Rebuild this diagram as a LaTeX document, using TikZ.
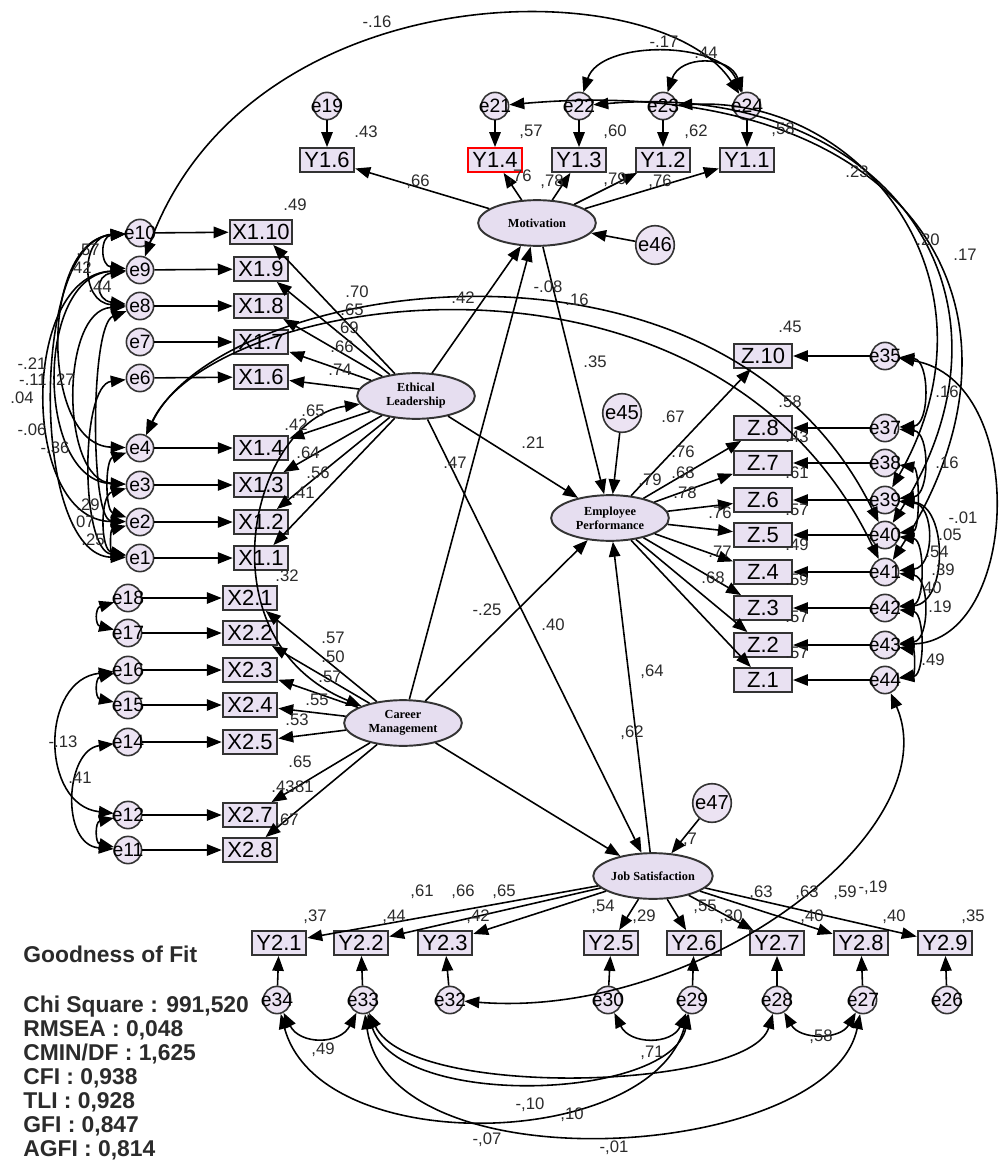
\documentclass[tikz,border=0pt]{standalone}
\usepackage{fontspec}
\setmainfont{Liberation Sans}
\newfontfamily\latfont{Liberation Serif}
\usetikzlibrary{shapes,arrows.meta,positioning}
\definecolor{boxfill}{HTML}{E9E1F2}
\definecolor{latfill}{HTML}{E6DEF0}
\definecolor{errfill}{HTML}{ECE3F3}
\definecolor{inkgray}{HTML}{2B2B2B}

\begin{document}
\begin{tikzpicture}[x=0.02cm, y=-0.02cm]
    % Define styles
    \tikzstyle{obs} = [draw=black!80, line width=1.2pt, rectangle, fill=boxfill, minimum width=31pt, minimum height=13.5pt, inner sep=1.5pt, font=\fontsize{12.5}{12.5}\selectfont]
    \tikzstyle{zobs} = [obs, minimum width=33pt]
    \tikzstyle{latent} = [draw=black!80, line width=1.1pt, ellipse, fill=latfill, minimum width=67pt, minimum height=26pt, inner sep=0pt, align=center, font=\latfont\bfseries\fontsize{7}{8}\selectfont]
    \tikzstyle{err} = [draw=black!80, line width=0.9pt, circle, fill=errfill, inner sep=0pt, minimum size=15.5pt, font=\fontsize{11}{11}\selectfont,
        execute at begin node={\hbox to 0pt\bgroup\hss}, execute at end node={\hss\egroup}]
    \tikzstyle{dist} = [draw=black!80, line width=0.9pt, circle, fill=errfill, inner sep=0pt, minimum size=22pt, font=\fontsize{11.5}{11.5}\selectfont]
    \tikzstyle{coef} = [inner sep=0pt, text=inkgray, font=\fontsize{9.5}{10}\selectfont]
    \tikzstyle{gof} = [inner sep=0pt, text=inkgray, font=\bfseries\fontsize{13}{13.6}\selectfont]
    \tikzstyle{arrow} = [line width=0.9pt, -{Triangle[length=8.5pt,width=6.5pt]}]
    \tikzstyle{cov} = [line width=0.9pt, {Triangle[length=8.5pt,width=6.5pt]}-{Triangle[length=8.5pt,width=6.5pt]}]

    \fill[white] (0,0) rectangle (1005,1162);
    \useasboundingbox (0,0) rectangle (1005,1162);

    % Latent variables
    \node[latent] (mot) at (537,223) {Motivation};
    \node[latent] (eth) at (416,396) {Ethical\\Leadership};
    \node[latent] (car) at (403,723) {Career\\Management};
    \node[latent] (emp) at (610,518) {Employee\\Performance};
    \node[latent, minimum width=68pt] (job) at (653,876) {Job Satisfaction};
    \node[dist] (e46) at (655,245) {e46};
    \node[dist] (e45) at (622,413) {e45};
    \node[dist] (e47) at (712,803) {e47};

    % Motivation indicators
    \node[obs] (y16) at (327,160) {Y1.6};
    \node[obs, draw=red] (y14) at (495,160) {Y1.4};
    \node[obs] (y13) at (579,160) {Y1.3};
    \node[obs] (y12) at (663,160) {Y1.2};
    \node[obs] (y11) at (747,160) {Y1.1};
    \node[err] (e19) at (327,106) {e19};
    \node[err] (e21) at (495,106) {e21};
    \node[err] (e22) at (579,106) {e22};
    \node[err] (e23) at (663,106) {e23};
    \node[err] (e24) at (747,106) {e24};

    % Ethical Leadership indicators
    \node[obs] (x110) at (261,232) {X1.10};
    \node[obs] (x19) at (261,269) {X1.9};
    \node[obs] (x18) at (261,306) {X1.8};
    \node[obs] (x17) at (261,342) {X1.7};
    \node[obs] (x16) at (261,377) {X1.6};
    \node[obs] (x14) at (261,448) {X1.4};
    \node[obs] (x13) at (261,485) {X1.3};
    \node[obs] (x12) at (261,522) {X1.2};
    \node[obs] (x11) at (261,558) {X1.1};
    \node[err] (e10) at (140,233) {e10};
    \node[err] (e9) at (140,270) {e9};
    \node[err] (e8) at (140,306) {e8};
    \node[err] (e7) at (140,342) {e7};
    \node[err] (e6) at (140,378) {e6};
    \node[err] (e4) at (140,448) {e4};
    \node[err] (e3) at (140,485) {e3};
    \node[err] (e2) at (140,522) {e2};
    \node[err] (e1) at (140,558) {e1};

    % Career Management indicators
    \node[obs] (x21) at (250,598) {X2.1};
    \node[obs] (x22) at (250,633) {X2.2};
    \node[obs] (x23) at (250,670) {X2.3};
    \node[obs] (x24) at (250,705) {X2.4};
    \node[obs] (x25) at (250,742) {X2.5};
    \node[obs] (x27) at (250,815) {X2.7};
    \node[obs] (x28) at (250,850) {X2.8};
    \node[err] (e18) at (128,598) {e18};
    \node[err] (e17) at (128,633) {e17};
    \node[err] (e16) at (128,670) {e16};
    \node[err] (e15) at (128,705) {e15};
    \node[err] (e14) at (128,742) {e14};
    \node[err] (e12) at (128,815) {e12};
    \node[err] (e11) at (128,850) {e11};

    % Employee Performance indicators
    \node[zobs] (z10) at (763,356) {Z.10};
    \node[zobs] (z8) at (763,428) {Z.8};
    \node[zobs] (z7) at (763,463) {Z.7};
    \node[zobs] (z6) at (763,500) {Z.6};
    \node[zobs] (z5) at (763,535) {Z.5};
    \node[zobs] (z4) at (763,572) {Z.4};
    \node[zobs] (z3) at (763,608) {Z.3};
    \node[zobs] (z2) at (763,645) {Z.2};
    \node[zobs] (z1) at (763,680) {Z.1};
    \node[err] (e35) at (885,356) {e35};
    \node[err] (e37) at (885,428) {e37};
    \node[err] (e38) at (885,463) {e38};
    \node[err] (e39) at (885,500) {e39};
    \node[err] (e40) at (885,535) {e40};
    \node[err] (e41) at (885,572) {e41};
    \node[err] (e42) at (885,608) {e42};
    \node[err] (e43) at (885,645) {e43};
    \node[err] (e44) at (885,680) {e44};

    % Job Satisfaction indicators
    \node[obs] (y21) at (279,943) {Y2.1};
    \node[obs] (y22) at (361,943) {Y2.2};
    \node[obs] (y23) at (445,943) {Y2.3};
    \node[obs] (y25) at (611,943) {Y2.5};
    \node[obs] (y26) at (694,943) {Y2.6};
    \node[obs] (y27) at (777,943) {Y2.7};
    \node[obs] (y28) at (861,943) {Y2.8};
    \node[obs] (y29) at (945,943) {Y2.9};
    \node[err] (e34) at (277,1000) {e34};
    \node[err] (e33) at (363,1000) {e33};
    \node[err] (e32) at (450,1000) {e32};
    \node[err] (e30) at (608,1000) {e30};
    \node[err] (e29) at (692,1000) {e29};
    \node[err] (e28) at (777,1000) {e28};
    \node[err] (e27) at (863,1000) {e27};
    \node[err] (e26) at (947,1000) {e26};

    % Arrows: structural paths
    \draw[arrow] (eth) -- (mot);
    \draw[arrow] (car) -- (mot);
    \draw[arrow] (mot) -- (emp);
    \draw[arrow] (eth) -- (emp);
    \draw[arrow] (car) -- (emp);
    \draw[arrow] (eth) -- (job);
    \draw[arrow] (car) -- (job);
    \draw[arrow] (job) -- (emp);
    \draw[arrow] (e46) -- (mot);
    \draw[arrow] (e45) -- (emp);
    \draw[arrow] (e47) -- (job);

    % Arrows: loadings
    \draw[arrow] (mot) -- (y16);
    \draw[arrow] (mot) -- (y14);
    \draw[arrow] (mot) -- (y13);
    \draw[arrow] (mot) -- (y12);
    \draw[arrow] (mot) -- (y11);
    \draw[arrow] (eth) -- (x110);
    \draw[arrow] (eth) -- (x19);
    \draw[arrow] (eth) -- (x18);
    \draw[arrow] (eth) -- (x17);
    \draw[arrow] (eth) -- (x16);
    \draw[arrow] (eth) -- (x14);
    \draw[arrow] (eth) -- (x13);
    \draw[arrow] (eth) -- (x12);
    \draw[arrow] (eth) -- (x11);
    \draw[arrow] (car) -- (x21);
    \draw[arrow] (car) -- (x22);
    \draw[arrow] (car) -- (x23);
    \draw[arrow] (car) -- (x24);
    \draw[arrow] (car) -- (x25);
    \draw[arrow] (car) -- (x27);
    \draw[arrow] (car) -- (x28);
    \draw[arrow] (emp) -- (z10);
    \draw[arrow] (emp) -- (z8);
    \draw[arrow] (emp) -- (z7);
    \draw[arrow] (emp) -- (z6);
    \draw[arrow] (emp) -- (z5);
    \draw[arrow] (emp) -- (z4);
    \draw[arrow] (emp) -- (z3);
    \draw[arrow] (emp) -- (z2);
    \draw[arrow] (emp) -- (z1);
    \draw[arrow] (job) -- (y21);
    \draw[arrow] (job) -- (y22);
    \draw[arrow] (job) -- (y23);
    \draw[arrow] (job) -- (y25);
    \draw[arrow] (job) -- (y26);
    \draw[arrow] (job) -- (y27);
    \draw[arrow] (job) -- (y28);
    \draw[arrow] (job) -- (y29);

    % Arrows: measurement errors
    \draw[arrow] (e19) -- (y16);
    \draw[arrow] (e21) -- (y14);
    \draw[arrow] (e22) -- (y13);
    \draw[arrow] (e23) -- (y12);
    \draw[arrow] (e24) -- (y11);
    \draw[arrow] (e10) -- (x110);
    \draw[arrow] (e9) -- (x19);
    \draw[arrow] (e8) -- (x18);
    \draw[arrow] (e7) -- (x17);
    \draw[arrow] (e6) -- (x16);
    \draw[arrow] (e4) -- (x14);
    \draw[arrow] (e3) -- (x13);
    \draw[arrow] (e2) -- (x12);
    \draw[arrow] (e1) -- (x11);
    \draw[arrow] (e18) -- (x21);
    \draw[arrow] (e17) -- (x22);
    \draw[arrow] (e16) -- (x23);
    \draw[arrow] (e15) -- (x24);
    \draw[arrow] (e14) -- (x25);
    \draw[arrow] (e12) -- (x27);
    \draw[arrow] (e11) -- (x28);
    \draw[arrow] (e35) -- (z10);
    \draw[arrow] (e37) -- (z8);
    \draw[arrow] (e38) -- (z7);
    \draw[arrow] (e39) -- (z6);
    \draw[arrow] (e40) -- (z5);
    \draw[arrow] (e41) -- (z4);
    \draw[arrow] (e42) -- (z3);
    \draw[arrow] (e43) -- (z2);
    \draw[arrow] (e44) -- (z1);
    \draw[arrow] (e34) -- (y21);
    \draw[arrow] (e33) -- (y22);
    \draw[arrow] (e32) -- (y23);
    \draw[arrow] (e30) -- (y25);
    \draw[arrow] (e29) -- (y26);
    \draw[arrow] (e28) -- (y27);
    \draw[arrow] (e27) -- (y28);
    \draw[arrow] (e26) -- (y29);

    % Covariances: top
    \draw[cov] (e9) .. controls (250,-30) and (660,-30) .. (e24);
    \draw[cov] (e22) .. controls (600,40) and (720,40) .. (e24);
    \draw[cov] (e23) .. controls (680,55) and (730,55) .. (e24);
    \draw[cov] (e21) .. controls (900,70) and (1060,300) .. (e41);
    \draw[cov] (e22) .. controls (880,80) and (1040,290) .. (e40);
    \draw[cov] (e23) .. controls (860,95) and (1010,280) .. (e39);
    \draw[cov] (e4) .. controls (220,280) and (720,200) .. (e40);
    \draw[cov] (e4) .. controls (212,292) and (712,212) .. (e41);
    \draw[cov] (eth) .. controls (250,420) and (200,640) .. (car);

    % Covariances: left
    \draw[cov] (e10) .. controls (100,236) and (100,266) .. (e9);
    \draw[cov] (e10) .. controls (80,236) and (80,303) .. (e8);
    \draw[cov] (e9) .. controls (95,275) and (95,300) .. (e8);
    \draw[cov] (e10) .. controls (40,240) and (40,445) .. (e4);
    \draw[cov] (e9) .. controls (35,275) and (35,480) .. (e3);
    \draw[cov] (e8) .. controls (60,310) and (60,480) .. (e3);
    \draw[cov] (e9) .. controls (20,275) and (20,520) .. (e2);
    \draw[cov] (e10) .. controls (30,240) and (30,555) .. (e1);
    \draw[cov] (e8) .. controls (90,325) and (90,520) .. (e2);
    \draw[cov] (e6) .. controls (80,385) and (80,550) .. (e1);
    \draw[cov] (e4) .. controls (105,460) and (105,510) .. (e2);
    \draw[cov] (e3) .. controls (100,495) and (100,550) .. (e1);
    \draw[cov] (e2) .. controls (110,530) and (110,552) .. (e1);
    \draw[cov] (e18) .. controls (95,608) and (95,625) .. (e17);
    \draw[cov] (e16) .. controls (95,678) and (95,698) .. (e15);
    \draw[cov] (e16) .. controls (40,680) and (40,805) .. (e12);
    \draw[cov] (e14) .. controls (65,750) and (60,845) .. (e11);
    \draw[cov] (e12) .. controls (95,822) and (95,843) .. (e11);

    % Covariances: right
    \draw[cov] (e35) .. controls (930,360) and (930,425) .. (e37);
    \draw[cov] (e37) .. controls (930,432) and (930,495) .. (e39);
    \draw[cov] (e38) .. controls (920,468) and (920,530) .. (e40);
    \draw[cov] (e39) .. controls (935,505) and (935,567) .. (e41);
    \draw[cov] (e40) .. controls (925,540) and (925,603) .. (e42);
    \draw[cov] (e39) .. controls (948,505) and (948,603) .. (e42);
    \draw[cov] (e41) .. controls (930,577) and (930,640) .. (e43);
    \draw[cov] (e42) .. controls (925,613) and (925,675) .. (e44);
    \draw[cov] (e43) .. controls (915,650) and (915,675) .. (e44);
    \draw[cov] (e35) .. controls (1030,380) and (1020,640) .. (e43);

    % Covariances: bottom
    \draw[cov] (e34) .. controls (300,1045) and (340,1045) .. (e33);
    \draw[cov] (e30) .. controls (630,1045) and (672,1045) .. (e29);
    \draw[cov] (e28) .. controls (800,1040) and (840,1040) .. (e27);
    \draw[cov] (e34) .. controls (320,1160) and (650,1150) .. (e29);
    \draw[cov] (e33) .. controls (400,1110) and (670,1100) .. (e29);
    \draw[cov] (e33) .. controls (410,1100) and (750,1090) .. (e28);
    \draw[cov] (e33) .. controls (390,1190) and (830,1160) .. (e27);
    \draw[cov] (e32) .. controls (700,1020) and (950,830) .. (e44);

    % Estimates: Motivation
    \node[coef] (r16) at (366,132) {.43};
    \node[coef] (r14) at (531,132) {,57};
    \node[coef] (r13) at (615,132) {,60};
    \node[coef] (r12) at (696,132) {,62};
    \node[coef] (r11) at (783,130) {,58};
    \node[coef] (l16) at (418,182) {,66};
    \node[coef] (l14) at (520,177) {,76};
    \node[coef] (l13) at (552,182) {,78};
    \node[coef] (l12) at (615,180) {,79};
    \node[coef] (l11) at (660,182) {,76};
    \node[coef] (k1) at (377,22) {-.16};
    \node[coef] (k2) at (664,42) {-.17};
    \node[coef] (k3) at (706,53) {.44};
    \node[coef] (k4) at (857,172) {.23};
    \node[coef] (k5) at (928,240) {.20};
    \node[coef] (k6) at (965,255) {.17};

    % Estimates: Ethical Leadership
    \node[coef] (rx110) at (295,205) {.49};
    \node[coef] (lx1) at (357,292) {.70};
    \node[coef] (lx2) at (352,310) {.65};
    \node[coef] (lx3) at (347,328) {.69};
    \node[coef] (lx4) at (342,347) {.66};
    \node[coef] (lx5) at (340,370) {.74};
    \node[coef] (lx6) at (313,411) {.65};
    \node[coef] (lx7) at (296,425) {.42};
    \node[coef] (lx8) at (308,453) {.64};
    \node[coef] (lx9) at (318,473) {.56};
    \node[coef] (lx10) at (303,493) {.41};
    \node[coef] (rx11) at (287,576) {.32};
    \node[coef] (kx1) at (88,250) {.57};
    \node[coef] (kx2) at (80,268) {.42};
    \node[coef] (kx3) at (100,287) {.44};
    \node[coef] (kx4) at (32,364) {-.21};
    \node[coef] (kx5) at (33,380) {-.11};
    \node[coef] (kx6) at (63,380) {.27};
    \node[coef] (kx7) at (22,398) {.04};
    \node[coef] (kx8) at (32,430) {-.06};
    \node[coef] (kx9) at (55,448) {-.36};
    \node[coef] (kx10) at (88,505) {.29};
    \node[coef] (kx11) at (83,522) {.07};
    \node[coef] (kx12) at (93,540) {.25};

    % Estimates: Career Management
    \node[coef] (lc1) at (333,638) {.57};
    \node[coef] (lc2) at (333,657) {.50};
    \node[coef] (lc3) at (330,677) {.57};
    \node[coef] (lc4) at (317,700) {.55};
    \node[coef] (lc5) at (297,720) {.53};
    \node[coef] (lc6) at (300,762) {.65};
    \node[coef] (lc7) at (283,787) {.43};
    \node[coef] (lc8) at (302,787) {.81};
    \node[coef] (lc9) at (287,820) {.67};
    \node[coef] (kc1) at (63,742) {-.13};
    \node[coef] (kc2) at (80,778) {.41};

    % Estimates: structural
    \node[coef] (s1) at (463,298) {.42};
    \node[coef] (s2) at (548,287) {-.08};
    \node[coef] (s3) at (577,300) {.16};
    \node[coef] (s4) at (595,362) {.35};
    \node[coef] (s5) at (533,443) {.21};
    \node[coef] (s6) at (455,463) {.47};
    \node[coef] (s7) at (487,610) {-.25};
    \node[coef] (s8) at (553,625) {.40};
    \node[coef] (s9) at (632,733) {,62};
    \node[coef] (s10) at (652,672) {,64};
    \node[coef] (s11) at (650,480) {.79};

    % Estimates: Employee Performance
    \node[coef] (lz1) at (673,417) {.67};
    \node[coef] (lz2) at (683,452) {.76};
    \node[coef] (lz3) at (683,473) {.68};
    \node[coef] (lz4) at (685,493) {.78};
    \node[coef] (lz5) at (720,513) {.76};
    \node[coef] (lz6) at (720,552) {.77};
    \node[coef] (lz7) at (713,578) {.68};
    \node[coef] (rz10) at (790,327) {.45};
    \node[coef] (rz8) at (790,402) {.58};
    \node[coef] (rz7) at (797,437) {.43};
    \node[coef] (rz6) at (797,473) {.61};
    \node[coef] (rz5) at (797,510) {.57};
    \node[coef] (rz4) at (797,545) {.49};
    \node[coef] (rz3) at (797,580) {.59};
    \node[coef] (rz2) at (797,617) {.57};
    \node[coef] (rz1) at (797,653) {.57};
    \node[coef] (kz1) at (947,392) {.16};
    \node[coef] (kz2) at (947,463) {.16};
    \node[coef] (kz3) at (963,518) {-.01};
    \node[coef] (kz4) at (950,535) {.05};
    \node[coef] (kz5) at (937,552) {.54};
    \node[coef] (kz6) at (943,570) {.39};
    \node[coef] (kz7) at (930,588) {.40};
    \node[coef] (kz8) at (940,607) {.19};
    \node[coef] (kz9) at (933,660) {.49};

    % Estimates: Job Satisfaction
    \node[coef] (rjob) at (690,840) {,7};
    \node[coef] (lj1) at (422,892) {,61};
    \node[coef] (lj2) at (463,892) {,66};
    \node[coef] (lj3) at (504,892) {,65};
    \node[coef] (lj5) at (603,907) {,54};
    \node[coef] (lj6) at (705,907) {,55};
    \node[coef] (lj7) at (761,893) {,63};
    \node[coef] (lj8) at (807,893) {,63};
    \node[coef] (lj9) at (845,893) {,59};
    \node[coef] (rj1) at (315,917) {,37};
    \node[coef] (rj2) at (394,917) {,44};
    \node[coef] (rj3) at (478,917) {,42};
    \node[coef] (rj5) at (644,917) {,29};
    \node[coef] (rj6) at (731,917) {,30};
    \node[coef] (rj7) at (812,917) {,40};
    \node[coef] (rj8) at (894,917) {,40};
    \node[coef] (rj9) at (973,917) {,35};
    \node[coef] (kj0) at (873,888) {-,19};
    \node[coef] (kj1) at (323,1050) {,49};
    \node[coef] (kj2) at (652,1053) {,71};
    \node[coef] (kj3) at (530,1105) {-,10};
    \node[coef] (kj4) at (572,1115) {,10};
    \node[coef] (kj5) at (487,1140) {-,07};
    \node[coef] (kj6) at (614,1148) {-,01};
    \node[coef] (kj7) at (821,1037) {,58};

    % Goodness of fit
    \node[gof, anchor=base west] (gofhead) at (23,962) {Goodness of Fit};
    \node[gof, anchor=north west, align=left] (gofvals) at (23,996) {Chi Square : 991,520\\RMSEA : 0,048\\CMIN/DF : 1,625\\CFI : 0,938\\TLI : 0,928\\GFI : 0,847\\AGFI : 0,814};
\end{tikzpicture}
\end{document}
